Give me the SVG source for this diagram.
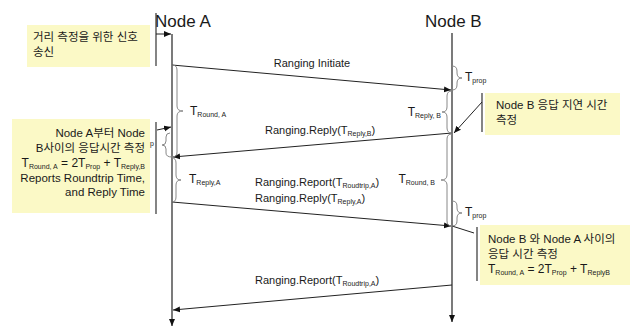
<svg xmlns="http://www.w3.org/2000/svg" width="634" height="330" viewBox="0 0 634 330">
<style>
text{font-family:"Liberation Sans","Noto Sans CJK KR",sans-serif;fill:#1a1a1a}
.nl{font-size:17px}
.m{font-size:11px}
.t{font-size:12px}
.s{font-size:7px}
.note{font-size:11.5px}
.life{stroke:#222;stroke-width:1.2;fill:none}
.msg{stroke:#222;stroke-width:1;fill:none}
.br{stroke:#888;stroke-width:1;fill:none}
.box{fill:#fbf9c6}
.bar{stroke:#333;stroke-width:1.2}
</style>
<defs>
<marker id="ah" markerWidth="8" markerHeight="8" refX="7" refY="4" orient="auto" markerUnits="userSpaceOnUse">
<path d="M0,1 L7,4 L0,7 Z" fill="#111"/>
</marker>
</defs>
<rect width="634" height="330" fill="#fff"/>

<g id="nodeA">
<text class="nl" x="155" y="27">Node A</text>
<line class="life" x1="172" y1="34" x2="172" y2="326" marker-end="url(#ah)"/>
</g>
<g id="nodeB">
<text class="nl" x="425" y="27">Node B</text>
<line class="life" x1="452" y1="33" x2="452" y2="322" marker-end="url(#ah)"/>
</g>

<g id="note1">
<rect class="box" x="27" y="25" width="123" height="42"/>
<line class="bar" x1="156" y1="13" x2="156" y2="66"/>
<text class="note" x="33" y="41">거리 측정을 위한 신호</text>
<text class="note" x="33" y="56">송신</text>
</g>

<g id="note2">
<rect class="box" x="12" y="119" width="138" height="94"/>
<line class="bar" x1="156" y1="122" x2="156" y2="214"/>
<text class="note" x="145" y="137" text-anchor="end">Node A부터 Node</text>
<text class="note" x="145" y="152" text-anchor="end">B사이의 응답시간 측정</text>
<text class="t" x="145" y="167" text-anchor="end">T<tspan class="s" dy="2">Round, A</tspan><tspan dy="-2"> = 2T</tspan><tspan class="s" dy="2">Prop</tspan><tspan dy="-2"> + T</tspan><tspan class="s" dy="2">Reply,B</tspan></text>
<text class="note" x="145" y="182" text-anchor="end">Reports Roundtrip Time,</text>
<text class="note" x="145" y="196" text-anchor="end">and Reply Time</text>
<text class="s" x="150" y="146">p</text>
</g>

<g id="note3">
<rect class="box" x="485" y="93" width="135" height="42"/>
<line class="bar" x1="482" y1="93" x2="482" y2="132"/>
<text class="note" x="496" y="109">Node B 응답 지연 시간</text>
<text class="note" x="496" y="124">측정</text>
</g>

<g id="note4">
<rect class="box" x="480" y="225" width="150" height="60"/>
<line class="bar" x1="477" y1="227" x2="477" y2="281"/>
<text class="note" x="488" y="243">Node B 와 Node A 사이의</text>
<text class="note" x="488" y="258">응답 시간 측정</text>
<text class="t" x="488" y="273">T<tspan class="s" dy="2">Round, A</tspan><tspan dy="-2"> = 2T</tspan><tspan class="s" dy="2">Prop</tspan><tspan dy="-2"> + T</tspan><tspan class="s" dy="2">ReplyB</tspan></text>
</g>

<g id="connectors">
<line class="msg" x1="156" y1="34" x2="171" y2="34" marker-end="url(#ah)"/>
<line class="msg" x1="172" y1="65" x2="451" y2="90" marker-end="url(#ah)"/>
<line class="msg" x1="452" y1="133" x2="173" y2="157" marker-end="url(#ah)"/>
<line class="msg" x1="172" y1="202" x2="451" y2="226" marker-end="url(#ah)"/>
<line class="msg" x1="452" y1="226" x2="474" y2="233"/>
<line class="msg" x1="452" y1="285" x2="173" y2="310" marker-end="url(#ah)"/>
<line class="msg" x1="482" y1="102" x2="454" y2="133" marker-end="url(#ah)"/>
<line class="msg" x1="157" y1="130" x2="171" y2="127" marker-end="url(#ah)"/>
</g>

<g id="braces">
<path class="br" d="M452,66 Q457,66 457,71 L457,73 Q457,78 462,78 Q457,78 457,83 L457,85 Q457,90 452,90"/>
<path class="br" d="M452,91 Q447,91 447,96 L447,107 Q447,112 442,112 Q447,112 447,117 L447,128 Q447,133 452,133"/>
<path class="br" d="M172,65 Q177,65 177,70 L177,106 Q177,111 183,111 Q177,111 177,116 L177,152 Q177,157 172,157"/>
<path class="br" d="M170,133 Q166,133 166,137 L166,141 Q166,145 162,145 Q166,145 166,149 L166,153 Q166,157 172,157"/>
<path class="br" d="M172,158 Q176,158 176,163 L176,175 Q176,180 181,180 Q176,180 176,185 L176,197 Q176,202 172,202"/>
<path class="br" d="M452,134 Q447,134 447,139 L447,175 Q447,180 441,180 Q447,180 447,185 L447,221 Q447,226 452,226"/>
<path class="br" d="M452,201 Q457,201 457,206 L457,208 Q457,213 462,213 Q457,213 457,218 L457,221 Q457,226 452,226"/>
</g>

<g id="labels">
<text class="m" x="312" y="67" text-anchor="middle">Ranging Initiate</text>
<text class="t" x="465" y="81">T<tspan class="s" dy="2">prop</tspan></text>
<text class="t" x="441" y="116" text-anchor="end">T<tspan class="s" dy="2">Reply, B</tspan></text>
<text class="t" x="190" y="115">T<tspan class="s" dy="2">Round, A</tspan></text>
<text class="m" x="265" y="134">Ranging.Reply(T<tspan class="s" dy="2">Reply,B</tspan><tspan dy="-2">)</tspan></text>
<text class="t" x="189" y="183">T<tspan class="s" dy="2">Reply,A</tspan></text>
<text class="t" x="435" y="183" text-anchor="end">T<tspan class="s" dy="2">Round, B</tspan></text>
<text class="m" x="255" y="186">Ranging.Report(T<tspan class="s" dy="2">Roudtrip,A</tspan><tspan dy="-2">)</tspan></text>
<text class="m" x="255" y="202">Ranging.Reply(T<tspan class="s" dy="2">Reply,A</tspan><tspan dy="-2">)</tspan></text>
<text class="t" x="465" y="216">T<tspan class="s" dy="2">prop</tspan></text>
<text class="m" x="255" y="284">Ranging.Report(T<tspan class="s" dy="2">Roudtrip,A</tspan><tspan dy="-2">)</tspan></text>
</g>
</svg>
